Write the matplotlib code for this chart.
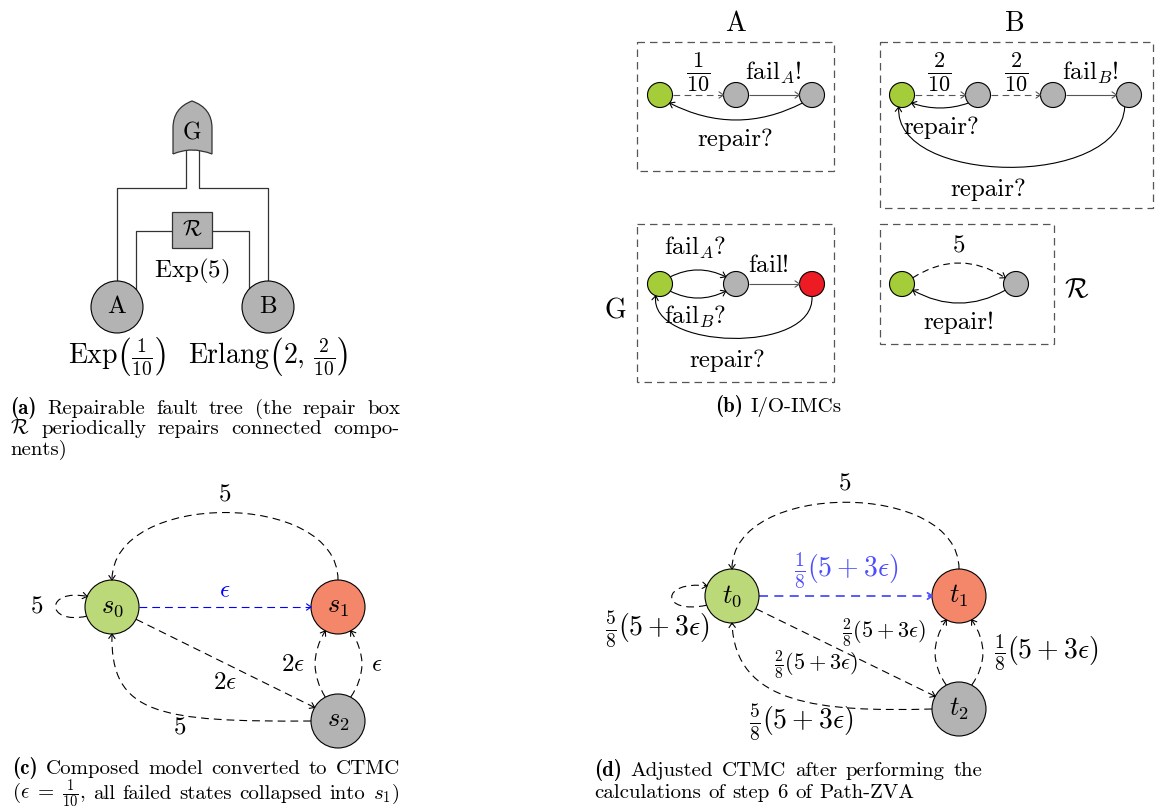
import matplotlib
matplotlib.use('Agg')
import matplotlib.pyplot as plt
from matplotlib.path import Path
from matplotlib.patches import PathPatch, Circle, Rectangle
import numpy as np

plt.rcParams['font.family'] = 'cmr10'
plt.rcParams['mathtext.fontset'] = 'cm'
plt.rcParams['axes.unicode_minus'] = False

# ---- labels / rates ----
tree_nodes = ['A', 'B']
tree_dists = [r'$\mathrm{Exp}\left(\frac{1}{10}\right)$',
              r'$\mathrm{Erlang}\left(2,\,\frac{2}{10}\right)$']
gate_label = 'G'
repair_label = r'$\mathcal{R}$'
repair_dist = r'$\mathrm{Exp}(5)$'

imc_titles = ['A', 'B', 'G', r'$\mathcal{R}$']
imc_a_labels = [r'$\frac{1}{10}$', r'$\mathrm{fail}_A!$', 'repair?']
imc_b_labels = [r'$\frac{2}{10}$', r'$\frac{2}{10}$', r'$\mathrm{fail}_B!$', 'repair?', 'repair?']
imc_g_labels = [r'$\mathrm{fail}_A?$', r'$\mathrm{fail}_B?$', r'$\mathrm{fail}!$', 'repair?']
imc_r_labels = ['5', 'repair!']

ctmc_states = [r'$s_0$', r'$s_1$', r'$s_2$']
ctmc_rates = ['5', '5', r'$\epsilon$', r'$2\epsilon$', '5', r'$2\epsilon$', r'$\epsilon$']

zva_states = [r'$t_0$', r'$t_1$', r'$t_2$']
zva_rates = ['5', r'$\frac{1}{8}(5+3\epsilon)$', r'$\frac{5}{8}(5+3\epsilon)$',
             r'$\frac{2}{8}(5+3\epsilon)$', r'$\frac{2}{8}(5+3\epsilon)$',
             r'$\frac{5}{8}(5+3\epsilon)$', r'$\frac{1}{8}(5+3\epsilon)$']

cap_a = [[('(a)', True), ('Repairable', False), ('fault', False), ('tree', False),
          ('(the', False), ('repair', False), ('box', False)],
         [(r'$\mathcal{R}$', False), ('periodically', False), ('repairs', False),
          ('connected', False), ('compo-', False)],
         [('nents)', False)]]
cap_b = [[('(b)', True), ('I/O-IMCs', False)]]
cap_c = [[('(c)', True), ('Composed', False), ('model', False), ('converted', False),
          ('to', False), ('CTMC', False)],
         [(r'$(\epsilon\;=\;\frac{1}{10}$,', False), ('all', False), ('failed', False),
          ('states', False), ('collapsed', False), ('into', False), (r'$s_1$)', False)]]
cap_d = [[('(d)', True), ('Adjusted', False), ('CTMC', False), ('after', False),
          ('performing', False), ('the', False)],
         [('calculations', False), ('of', False), ('step', False), ('6', False),
          ('of', False), ('Path-ZVA', False)]]

GRAY = '#b3b3b3'
GREEN_B = '#a5cd39'
RED_B = '#ed1c24'
GREEN_C = '#bcd979'
SALMON = '#f4866a'

fig = plt.figure(figsize=(11.57, 8.11), dpi=100)
ax = fig.add_axes([0, 0, 1, 1])
ax.set_xlim(0, 1157)
ax.set_ylim(811, 0)
ax.axis('off')
renderer = fig.canvas.get_renderer()


def on(c, r, a):
    a = np.radians(a)
    return (c[0] + r * np.cos(a), c[1] - r * np.sin(a))


def head(tip, frm, color, lw, L=5.5, ang=35):
    tip = np.array(tip, float)
    d = tip - np.array(frm, float)
    d /= np.hypot(*d)
    pts = []
    for s in (1, -1):
        a = np.radians(s * ang)
        v = np.array([-d[0] * np.cos(a) + d[1] * np.sin(a),
                      -d[0] * np.sin(a) - d[1] * np.cos(a)])
        pts.append(tip + L * v)
    ax.plot([pts[0][0], tip[0], pts[1][0]], [pts[0][1], tip[1], pts[1][1]],
            color=color, lw=lw, solid_capstyle='round', zorder=4)


def edge(pts, color='k', lw=0.8, dash=False, arrow=True, dashes=(7, 4.5)):
    pts = np.array(pts, float)
    codes = {2: [Path.MOVETO, Path.LINETO],
             3: [Path.MOVETO, Path.CURVE3, Path.CURVE3],
             4: [Path.MOVETO, Path.CURVE4, Path.CURVE4, Path.CURVE4]}[len(pts)]
    ls = (0, dashes) if dash else '-'
    ax.add_patch(PathPatch(Path(pts, codes), fill=False, ec=color, lw=lw, ls=ls,
                           zorder=2, capstyle='butt'))
    if arrow:
        head(pts[-1], pts[-2], color, lw)


def node(c, r, fc, label=None, fs=17):
    ax.add_patch(Circle(c, r, fc=fc, ec='k', lw=0.8, zorder=3))
    if label:
        ax.text(c[0], c[1], label, ha='center', va='center', fontsize=fs, zorder=5)


def lab(x, y, s, fs=17, color='k'):
    ax.text(x, y, s, ha='center', va='center', fontsize=fs, color=color, zorder=5)


def caption(lines, x0, x1, y0, fs=15, step=21):
    for i, words in enumerate(lines):
        y = y0 + i * step
        texts = []
        for w, bold in words:
            texts.append(ax.text(0, y, w, fontsize=fs, va='baseline', ha='left',
                                 family='cmb10' if bold else 'cmr10'))
        widths = [t.get_window_extent(renderer).width for t in texts]
        last = i == len(lines) - 1
        if last or len(texts) == 1:
            gap = fs * 100 / 72 * 0.36
        else:
            gap = (x1 - x0 - sum(widths)) / (len(texts) - 1)
        x = x0
        for t, w in zip(texts, widths):
            t.set_x(x)
            x += w + gap


# ================= (a) fault tree =================
lc = '#333333'
A, B, rA = (117, 307), (268, 307), 26
ax.plot([186, 186, 117, 117], [150, 188, 188, 281], color=lc, lw=0.9, zorder=1)
ax.plot([199, 199, 268, 268], [150, 188, 188, 281], color=lc, lw=0.9, zorder=1)
ax.plot([172, 136, 136], [231, 231, 289], color=lc, lw=0.9, zorder=1)
ax.plot([212, 249, 249], [231, 231, 289], color=lc, lw=0.9, zorder=1)
gate = Path([(173, 154), (173, 128), (173, 108), (192, 101), (212, 108), (212, 128),
             (212, 154), (192, 146), (173, 154)],
            [Path.MOVETO, Path.LINETO, Path.CURVE3, Path.CURVE3, Path.CURVE3, Path.CURVE3,
             Path.LINETO, Path.CURVE3, Path.CURVE3])
ax.add_patch(PathPatch(gate, fc=GRAY, ec=lc, lw=0.9, zorder=3))
lab(192, 133, gate_label)
ax.add_patch(Rectangle((172, 212), 40, 36, fc=GRAY, ec=lc, lw=0.9, zorder=3))
lab(192, 230, repair_label, fs=16)
lab(192, 271, repair_dist, fs=18)
for c, n, d in zip([A, B], tree_nodes, tree_dists):
    node(c, rA, GRAY, n, fs=18)
    lab(c[0], 356, d, fs=20)
caption(cap_a, 10, 400, 414, step=20.5)

# ================= (b) I/O-IMCs =================
r = 12.5
bc = '#555555'
for (x0, y0, x1, y1) in [(637, 42, 834, 171), (880, 42, 1153, 208),
                         (637, 224, 834, 382), (880, 224, 1054, 344)]:
    ax.add_patch(Rectangle((x0, y0), x1 - x0, y1 - y0, fill=False, ec=bc, lw=0.9,
                           ls=(0, (6, 4)), zorder=1))
lab(736, 24, imc_titles[0], fs=20)
lab(1015, 24, imc_titles[1], fs=20)
lab(615, 311, imc_titles[2], fs=20)
lab(1077, 290, imc_titles[3], fs=20)

# A
a0, a1, a2 = (660, 95), (736, 95), (812, 95)
edge([(a0[0] + r, 95), (a1[0] - r, 95)], color=bc, dash=True, dashes=(6, 4))
edge([(a1[0] + r, 95), (a2[0] - r, 95)], color=bc)
edge([on(a2, r, 220), (736, 137), on(a0, r, -40)])
node(a0, r, GREEN_B); node(a1, r, GRAY); node(a2, r, GRAY)
lab(698, 72, imc_a_labels[0], fs=23)
lab(773, 73, imc_a_labels[1], fs=18)
lab(735, 140, imc_a_labels[2], fs=18)

# B
b0, b1, b2, b3 = (902, 95), (978, 95), (1053, 95), (1129, 95)
edge([(b0[0] + r, 95), (b1[0] - r, 95)], color=bc, dash=True, dashes=(6, 4))
edge([(b1[0] + r, 95), (b2[0] - r, 95)], color=bc, dash=True, dashes=(6, 4))
edge([(b2[0] + r, 95), (b3[0] - r, 95)], color=bc)
edge([on(b1, r, 220), (940, 113), on(b0, r, -40)])
edge([on(b3, r, 250), (1120, 190), (893, 185), on(b0, r, 255)])
node(b0, r, GREEN_B); node(b1, r, GRAY); node(b2, r, GRAY); node(b3, r, GRAY)
lab(939, 72, imc_b_labels[0], fs=23)
lab(1016, 72, imc_b_labels[1], fs=23)
lab(1090, 73, imc_b_labels[2], fs=18)
lab(941, 128, imc_b_labels[3], fs=18)
lab(988, 190, imc_b_labels[4], fs=18)

# G
g0, g1, g2 = (660, 284), (736, 284), (812, 284)
edge([on(g0, r, 35), (698, 263), on(g1, r, 145)])
edge([on(g0, r, -35), (698, 305), on(g1, r, -145)])
edge([(g1[0] + r, 284), (g2[0] - r, 284)], color=bc)
edge([on(g2, r, 270), (815, 355), (648, 350), on(g0, r, 250)])
node(g0, r, GREEN_B); node(g1, r, GRAY); node(g2, r, RED_B)
lab(695, 248, imc_g_labels[0], fs=18)
lab(695, 317, imc_g_labels[1], fs=18)
lab(768, 266, imc_g_labels[2], fs=18)
lab(727, 361, imc_g_labels[3], fs=18)

# R
q0, q1 = (902, 284), (1016, 284)
edge([on(q0, r, 30), (959, 248), on(q1, r, 150)], dash=True, dashes=(6, 4))
edge([on(q1, r, -150), (959, 316), on(q0, r, -30)])
node(q0, r, GREEN_B); node(q1, r, GRAY)
lab(959, 246, imc_r_labels[0], fs=18)
lab(959, 323, imc_r_labels[1], fs=18)
caption(cap_b, 715, 860, 412)

# ================= (c) CTMC =================
R = 27
s0, s1, s2 = (112, 607), (338, 607), (338, 721)
edge([(338, 580), (338, 490), (112, 490), (112, 580)], dash=True)
edge([on(s0, R, 200), (45, 625), (45, 588), on(s0, R, 157)], dash=True)
edge([(s0[0] + R, 607), (s1[0] - R, 607)], color='#0000ff', dash=True)
edge([on(s0, R, -27), on(s2, R, 150)], dash=True)
edge([(s2[0] - R, 721), (160, 722), (110, 715), (112, 634)], dash=True)
edge([on(s2, R, 118), (304.7, 664), on(s1, R, 242)], dash=True)
edge([on(s2, R, 62), (373.3, 664), on(s1, R, -62)], dash=True)
for c, fc, s in zip([s0, s1, s2], [GREEN_C, SALMON, GRAY], ctmc_states):
    node(c, R, fc, s, fs=19)
lab(225, 495, ctmc_rates[0], fs=18)
lab(37, 607, ctmc_rates[1], fs=18)
lab(225, 591, ctmc_rates[2], fs=18, color='#0000ff')
lab(225, 683, ctmc_rates[3], fs=18)
lab(180, 728, ctmc_rates[4], fs=18)
lab(293, 665, ctmc_rates[5], fs=18)
lab(377, 665, ctmc_rates[6], fs=18)
caption(cap_c, 12, 400, 774, step=25)

# ================= (d) adjusted CTMC =================
t0, t1, t2 = (732, 596), (959, 596), (959, 709)
edge([(959, 569), (959, 480), (732, 480), (732, 569)], dash=True)
edge([on(t0, R, 200), (660, 615), (660, 580), on(t0, R, 158)], dash=True)
edge([(t0[0] + R, 596), (t1[0] - R, 596)], color='#4d4dff', lw=1.3, dash=True,
     dashes=(5, 3.5))
edge([on(t0, R, -28), on(t2, R, 152)], dash=True)
edge([(t2[0] - R, 709), (820, 712), (735, 705), (732, 623)], dash=True)
edge([on(t2, R, 118), (923.7, 653), on(t1, R, 242)], dash=True)
edge([on(t2, R, 62), (994.3, 653), on(t1, R, -62)], dash=True)
for c, fc, s in zip([t0, t1, t2], [GREEN_C, SALMON, GRAY], zva_states):
    node(c, R, fc, s, fs=19)
lab(845, 484, zva_rates[0], fs=18)
lab(846, 570, zva_rates[1], fs=20, color='#4d4dff')
lab(657, 629, zva_rates[2], fs=20)
lab(884, 633, zva_rates[3], fs=16)
lab(816, 665, zva_rates[4], fs=16)
lab(801, 722, zva_rates[5], fs=20)
lab(1046, 652, zva_rates[6], fs=20)
caption(cap_d, 594, 982, 776, step=22)

fig.savefig('out.png', dpi=100)
